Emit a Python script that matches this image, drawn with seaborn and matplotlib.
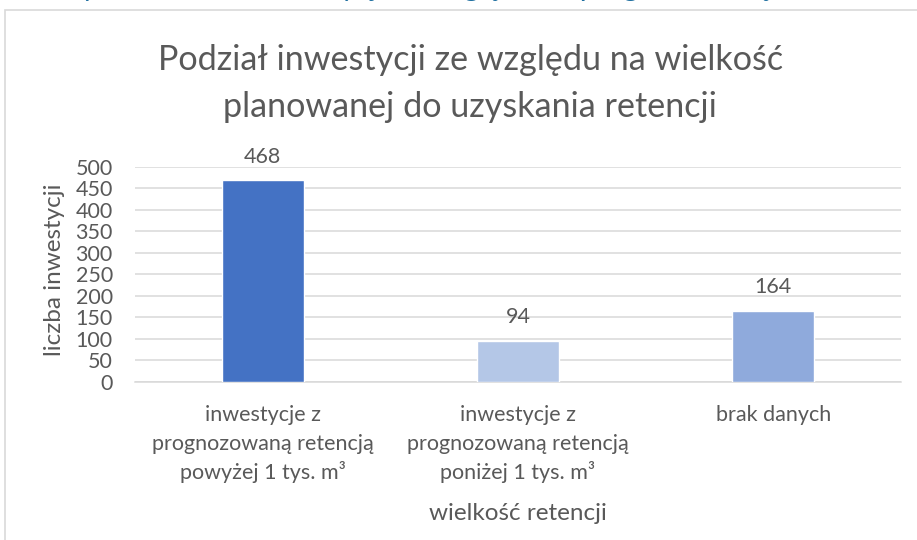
import matplotlib
matplotlib.use("Agg")
import matplotlib.pyplot as plt
from matplotlib.patches import Rectangle
from matplotlib.transforms import blended_transform_factory
import seaborn as sns
import pandas as pd

# Chart data
categories = [
    "inwestycje z\nprognozowaną retencją\npowyżej 1 tys. m³",
    "inwestycje z\nprognozowaną retencją\nponiżej 1 tys. m³",
    "brak danych",
]
values = [468, 94, 164]
bar_colors = ["#4472C4", "#B4C7E7", "#8FAADC"]
y_ticks = [0, 50, 100, 150, 200, 250, 300, 350, 400, 450, 500]

title_text = "Podział inwestycji ze względu na wielkość\nplanowanej do uzyskania retencji"
caption_text = "Rys. 4. Podział inwestycji ze względu na prognozowaną wielkość retencji"
y_label = "liczba inwestycji"
x_label = "wielkość retencji"

TEXT = "#595959"
GRID = "#D9D9D9"

sns.set_theme(style="white")
plt.rcParams["font.family"] = ["Lato", "DejaVu Sans"]

df = pd.DataFrame({"kategoria": categories, "liczba": values})

fig = plt.figure(figsize=(9.17, 5.40), dpi=100)
ax = fig.add_axes([135 / 917, 1 - 381.7 / 540, 766 / 917, 215 / 540])

sns.barplot(
    data=df, x="kategoria", y="liczba", hue="kategoria",
    palette=bar_colors, width=0.32, legend=False, ax=ax,
    saturation=1, zorder=3,
)

ax.set_xlim(-0.5, len(categories) - 0.5)
ax.set_ylim(0, 500)
ax.set_yticks(y_ticks)
ax.set_yticklabels([str(t) for t in y_ticks])
ax.set_xticks(range(len(categories)))
ax.set_xticklabels([""] * len(categories))

ax.grid(axis="y", color=GRID, linewidth=1.1, zorder=0)
ax.grid(axis="x", visible=False)
for side in ["top", "right", "left"]:
    ax.spines[side].set_visible(False)
ax.spines["bottom"].set_color(GRID)
ax.spines["bottom"].set_linewidth(1.1)

ax.tick_params(axis="y", length=0, pad=16, labelsize=15.5, labelcolor=TEXT)
ax.tick_params(axis="x", length=0)

# Category labels, one evenly spaced line at a time under each bar
xtrans = blended_transform_factory(ax.transData, ax.transAxes)
line_step = 28.5 / 215
for i, cat in enumerate(categories):
    for j, line in enumerate(cat.split("\n")):
        ax.text(i, -(33.3 / 215) - j * line_step, line, transform=xtrans,
                ha="center", va="center", fontsize=15.5, color=TEXT)

ax.set_xlabel(x_label, fontsize=17.5, color=TEXT)
ax.set_ylabel(y_label, fontsize=17.5, color=TEXT)
ax.xaxis.set_label_coords(0.5, -0.565)
ax.yaxis.set_label_coords(-0.091, 0.52)

# Value labels above each bar
for cont in ax.containers:
    ax.bar_label(cont, fmt="%d", padding=10, fontsize=15.5, color=TEXT)

fig.text(0.513, 1 - 83.5 / 540, title_text, ha="center", va="center",
         fontsize=24.6, color=TEXT, linespacing=1.6)

# Chart area frame and the caption line running above it
fig.patches.append(Rectangle((5 / 917, -0.05), 1.1, 1 - 9.5 / 540 + 0.05,
                             transform=fig.transFigure, fill=False,
                             edgecolor=GRID, linewidth=1.2, figure=fig))
fig.text(0.07, 1 + 4 / 540, caption_text, ha="left", va="baseline",
         fontsize=21, color="#1F6FA0")

fig.savefig("out.png", dpi=100, facecolor="white")
